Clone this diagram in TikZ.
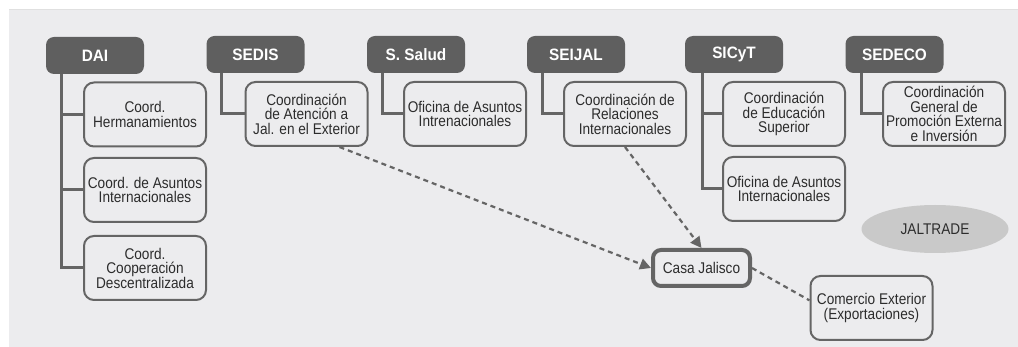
\documentclass[tikz,border=0pt]{standalone}
\usepackage{fontspec}
\setmainfont{Liberation Sans}
\newfontfamily\narrowfont[FakeStretch=0.88]{Liberation Sans}
\newfontfamily\headfont[FakeStretch=0.93]{Liberation Sans}
\usetikzlibrary{arrows.meta,positioning,calc,shapes.geometric}
\definecolor{panel}{HTML}{ECECEE}
\definecolor{headgray}{HTML}{5F5F5F}
\definecolor{linegray}{HTML}{656565}
\definecolor{txtgray}{HTML}{2C2C2C}
\definecolor{ovalgray}{HTML}{C9C9C9}
\begin{document}
\begin{tikzpicture}[x=1pt,y=-1pt,
 head/.style={fill=headgray,rounded corners=8pt,minimum width=98pt,minimum height=37pt,inner sep=0pt,text=white,font=\headfont\bfseries\fontsize{16.5}{16}\selectfont},
 unit/.style={draw=linegray,line width=2pt,rounded corners=10pt,minimum width=122pt,minimum height=64pt,inner sep=1pt,align=center,text=txtgray,font=\narrowfont\fontsize{15.5}{14.5}\selectfont},
 tree/.style={draw=linegray,line width=3pt},
 link/.style={draw=linegray,line width=2.2pt,dash pattern=on 5pt off 4pt},
 ar/.style={link,-{Triangle[length=11pt,width=11pt]}}]
\useasboundingbox (0,0) rectangle (1018,347);
\fill[panel] (9,9) rectangle (1018,347);
\draw[color=black!12] (9,9.5) -- (1018,9.5);
% heads
\node[head] (dai) at (95,55.5) {DAI};
\node[head] (sedis) at (255.5,54.5) {SEDIS};
\node[head] (salud) at (416,54.5) {S. Salud};
\node[head] (seijal) at (576,54.5) {SEIJAL};
\node[head] (sicyt) at (734,54.5) {SICyT};
\node[head] (sedeco) at (894.5,54.5) {SEDECO};
% units
\node[unit] (dai1) at (145,114.5) {Coord.\\ Hermanamientos};
\node[unit] (dai2) at (145,190) {Coord. de Asuntos\\ Internacionales};
\node[unit] (dai3) at (145,268) {Coord.\\ Cooperación\\ Descentralizada};
\node[unit] (sedis1) at (306.5,114) {Coordinación\\ de Atención a\\ Jal. en el Exterior};
\node[unit] (salud1) at (465,114) {Oficina de Asuntos\\ Intrenacionales};
\node[unit] (seijal1) at (625,114) {Coordinación de\\ Relaciones\\ Internacionales};
\node[unit] (sicyt1) at (784,114) {Coordinación\\ de Educación\\ Superior};
\node[unit] (sicyt2) at (784,189) {Oficina de Asuntos\\ Internacionales};
\node[unit] (sedeco1) at (944,114) {Coordinación\\ General de\\ Promoción Externa\\ e Inversión};
\node[unit,line width=4pt,minimum width=97pt,minimum height=36pt,rounded corners=8pt] (casa) at (701.5,268) {Casa Jalisco};
\node[unit] (comex) at (871.5,308) {Comercio Exterior\\ (Exportaciones)};
\node[ellipse,fill=ovalgray,minimum width=147pt,minimum height=48pt,text=txtgray,font=\narrowfont\fontsize{15.5}{15}\selectfont] (jal) at (935,229) {JALTRADE};
% tree lines
\draw[tree] ($(dai.south west)+(16,0)$) |- (dai1.west);
\draw[tree] ($(dai.south west)+(16,0)$) |- (dai2.west);
\draw[tree] ($(dai.south west)+(16,0)$) |- (dai3.west);
\draw[tree] ($(sedis.south west)+(15,0)$) |- (sedis1.west);
\draw[tree] ($(salud.south west)+(16,0)$) |- (salud1.west);
\draw[tree] ($(seijal.south west)+(16,0)$) |- (seijal1.west);
\draw[tree] ($(sicyt.south west)+(18,0)$) |- (sicyt1.west);
\draw[tree] ($(sicyt.south west)+(18,0)$) |- (sicyt2.west);
\draw[tree] ($(sedeco.south west)+(16,0)$) |- (sedeco1.west);
% links
\draw[ar] (sedis1.-45) -- (casa.west);
\draw[ar] (seijal1.south) -- (casa.north);
\draw[link] (casa.east) -- (comex.173);
\end{tikzpicture}
\end{document}
